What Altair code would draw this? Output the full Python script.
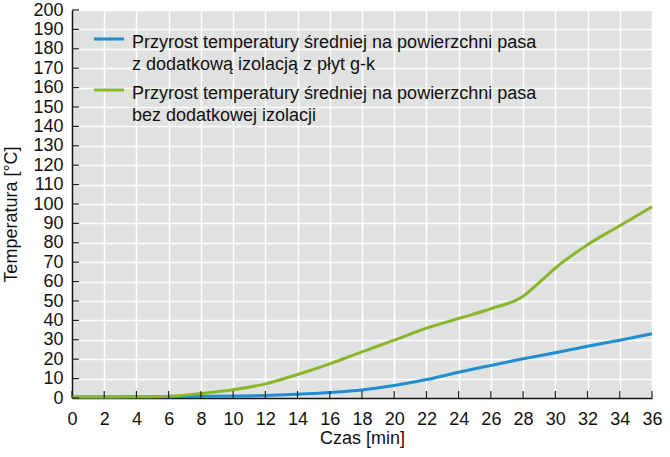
import altair as alt
import pandas as pd

# Time axis (minutes) and temperature rise (°C) for each series
t_izol = [0, 2, 4, 6, 8, 10, 12, 14, 16, 18, 20, 22, 24, 26, 28, 30, 32, 34, 36]
temp_izol = [0.5, 0.5, 0.6, 0.7, 0.8, 1.0, 1.3, 1.9, 2.8, 4.1, 6.4, 9.5, 13.3, 16.8, 20.2, 23.3, 26.7, 29.8, 33.1]

t_bez = [0, 2, 4, 6, 8, 10, 12, 14, 16, 18, 20, 22, 24, 26, 28, 29, 30, 32, 34, 36]
temp_bez = [0.5, 0.5, 0.6, 0.9, 2.3, 4.2, 7.3, 12.1, 17.6, 23.8, 29.8, 36.0, 41.0, 46.0, 52.5, 59.5, 67.0, 79.0, 88.8, 98.6]

series_names = [
    "Przyrost temperatury średniej na powierzchni pasa|z dodatkową izolacją z płyt g-k",
    "Przyrost temperatury średniej na powierzchni pasa|bez dodatkowej izolacji",
]
series_colors = ["#1f8dcf", "#8db52c"]

x_ticks = list(range(0, 37, 2))
y_ticks = list(range(0, 201, 10))

FONT = "Liberation Sans"
W, H = 580, 388

df = pd.concat([
    pd.DataFrame({"t": t_izol, "temp": temp_izol, "seria": series_names[0]}),
    pd.DataFrame({"t": t_bez, "temp": temp_bez, "seria": series_names[1]}),
])

x_scale = alt.Scale(domain=[0, 36], nice=False, zero=True)
y_scale = alt.Scale(domain=[0, 200], nice=False)
color_scale = alt.Scale(domain=series_names, range=series_colors)

x_axis = alt.Axis(values=x_ticks, title="Czas [min]", titleY=40,
                  titleBaseline="middle", labelPadding=12)
y_axis = alt.Axis(values=y_ticks, title="Temperatura [°C]", titleX=-61,
                  titleY=204, titleBaseline="middle", titleAngle=-90,
                  labelPadding=9)

lines = alt.Chart(df).mark_line(strokeWidth=3, interpolate="monotone").encode(
    x=alt.X("t:Q", scale=x_scale, axis=x_axis),
    y=alt.Y("temp:Q", scale=y_scale, axis=y_axis),
    color=alt.Color("seria:N", scale=color_scale, legend=None),
)

# inward tick marks along both axes
yt = alt.Chart(pd.DataFrame({"v": y_ticks})).mark_rule(color="#222", strokeWidth=1.2).encode(
    y=alt.Y("v:Q", scale=y_scale, axis=y_axis), x=alt.value(0), x2=alt.value(7)
)
xt = alt.Chart(pd.DataFrame({"v": x_ticks})).mark_rule(color="#222", strokeWidth=1.2).encode(
    x=alt.X("v:Q", scale=x_scale, axis=x_axis), y=alt.value(H), y2=alt.value(H - 7)
)

# legend inside the plot: line sample plus two-line label
leg = pd.DataFrame({
    "seria": series_names,
    "sy": [29, 80],
    "ty": [37.5, 88.5],
})
leg_sym = alt.Chart(leg).mark_rule(strokeWidth=3).encode(
    x=alt.value(22), x2=alt.value(52),
    y=alt.Y("sy:Q", scale=None),
    color=alt.Color("seria:N", scale=color_scale, legend=None),
)
leg_txt = alt.Chart(leg).transform_calculate(
    lab="split(datum.seria, '|')"
).mark_text(align="left", baseline="alphabetic", font=FONT, fontSize=18,
            lineHeight=22.5, color="#111").encode(
    x=alt.value(60),
    y=alt.Y("ty:Q", scale=None),
    text="lab:N",
)

chart = alt.layer(lines, yt, xt, leg_sym, leg_txt).properties(
    width=W, height=H,
    autosize=alt.AutoSizeParams(type="none"),
    padding={"left": 72, "top": 10, "right": 18, "bottom": 59},
    background="white",
).configure_view(
    fill="#e0e1e1", stroke=None
).configure_axis(
    labelFont=FONT, labelFontSize=18, labelColor="#111",
    titleFont=FONT, titleFontSize=18, titleColor="#111", titleFontWeight="normal",
    domainColor="#111", domainWidth=1.5,
    ticks=False, labelOverlap=False, labelFlush=False,
    gridColor="white", gridWidth=1.5, gridOpacity=1,
)

chart.save("out.html", embed_options={"renderer": "svg", "actions": False})
